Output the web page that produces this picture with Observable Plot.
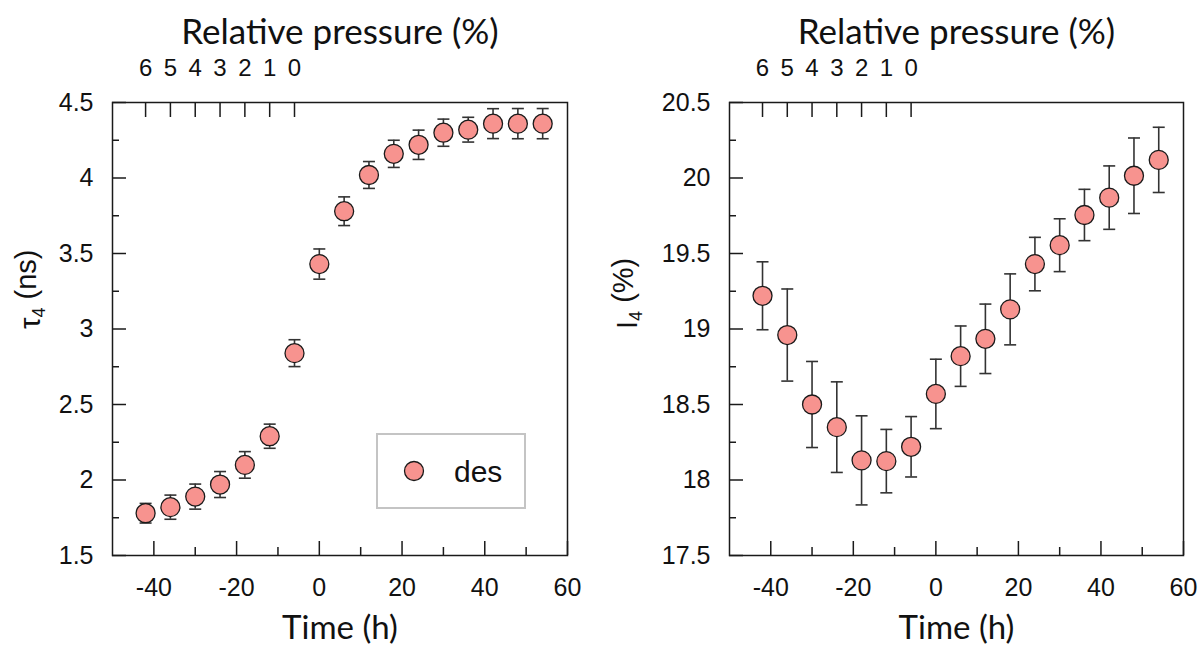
<!DOCTYPE html>
<html>
<head>
<meta charset="utf-8">
<script src="https://cdn.jsdelivr.net/npm/d3@7"></script>
<script src="https://cdn.jsdelivr.net/npm/@observablehq/plot@0.6"></script>
<style>
  body { margin: 0; background: #fff; }
  #wrap { position: relative; width: 1199px; height: 660px; overflow: hidden; }
  #left, #right { position: absolute; top: 0; }
  #left { left: 0; }
  #right { left: 600px; }
  #legend { position: absolute; left: 376px; top: 433px; width: 146px; height: 72px;
            border: 2px solid #c4c4c4; background: #fff; }
</style>
</head>
<body>
<div id="wrap">
  <div id="left"></div>
  <div id="right"></div>
  <div id="legend">
    <svg width="146" height="72">
      <circle cx="36" cy="36" r="9.5" fill="#f7938f" stroke="#1a1a1a" stroke-width="1.3"></circle>
      <text x="76" y="47" font-family="Liberation Sans, Arial, sans-serif" font-size="30" fill="#111">des</text>
    </svg>
  </div>
</div>
<script>
// ---- data ----
const times = [-42, -36, -30, -24, -18, -12, -6, 0, 6, 12, 18, 24, 30, 36, 42, 48, 54];
const tau4 = [1.78, 1.82, 1.89, 1.97, 2.10, 2.29, 2.84, 3.43, 3.78, 4.02, 4.16, 4.22, 4.30, 4.32, 4.36, 4.36, 4.36];
const tau4Err = [0.065, 0.08, 0.083, 0.086, 0.088, 0.08, 0.089, 0.10, 0.095, 0.089, 0.09, 0.097, 0.09, 0.082, 0.099, 0.10, 0.10];
const i4 = [19.22, 18.96, 18.50, 18.35, 18.13, 18.125, 18.22, 18.57, 18.82, 18.935, 19.13, 19.43, 19.555, 19.755, 19.87, 20.015, 20.12];
const i4Err = [0.225, 0.305, 0.285, 0.30, 0.295, 0.21, 0.20, 0.23, 0.20, 0.23, 0.235, 0.177, 0.175, 0.17, 0.21, 0.25, 0.216];

const xMajor = [-40, -20, 0, 20, 40, 60];
const xMinor = [-30, -10, 10, 30, 50];
const pressureTicks = [-42, -36, -30, -24, -18, -12, -6];
const pressureLabels = ["6", "5", "4", "3", "2", "1", "0"];
const tauMajor = [1.5, 2, 2.5, 3, 3.5, 4, 4.5];
const tauMinor = [1.75, 2.25, 2.75, 3.25, 3.75, 4.25];
const i4Major = [17.5, 18, 18.5, 19, 19.5, 20, 20.5];
const i4Minor = [17.75, 18.25, 18.75, 19.25, 19.75, 20.25];

const topTitle = "Relative pressure (%)";
const xTitle = "Time (h)";

const FILL = "#f7938f";
const INK = "#1a1a1a";
const SANS = "Liberation Sans, Arial, sans-serif";
const TITLE_FONT = "Lato, 'Open Sans', sans-serif";

function panel(opts) {
  const {width, marginLeft, marginRight, values, errs, yDomain, yMajor, yMinor, ylabel, ylabelDx} = opts;
  const height = 660, marginTop = 102, marginBottom = 105;
  const fh = height - marginTop - marginBottom;
  const fw = width - marginLeft - marginRight;
  const data = times.map((t, i) => ({t, v: values[i], e: errs[i]}));
  const capSymbol = {draw(ctx, size) { const w = Math.sqrt(size / Math.PI); ctx.moveTo(-w, 0); ctx.lineTo(w, 0); }};
  const svg = Plot.plot({
    width, height, marginLeft, marginRight, marginTop, marginBottom,
    style: {fontFamily: SANS, background: "#fff", color: "#111"},
    x: {domain: [-50, 60]},
    y: {domain: yDomain},
    marks: [
      Plot.frame({stroke: INK, strokeWidth: 1.5}),
      // inward ticks
      Plot.ruleX(xMajor, {stroke: INK, strokeWidth: 1.5, insetTop: fh - 14}),
      Plot.ruleX(xMinor, {stroke: INK, strokeWidth: 1.5, insetTop: fh - 8}),
      Plot.ruleX(pressureTicks, {stroke: INK, strokeWidth: 1.5, insetBottom: fh - 15}),
      Plot.ruleY(yMajor, {stroke: INK, strokeWidth: 1.5, insetRight: fw - 14}),
      Plot.ruleY(yMinor, {stroke: INK, strokeWidth: 1.5, insetRight: fw - 7}),
      // axes labels
      Plot.axisX(xMajor, {anchor: "bottom", tickSize: 0, tickPadding: 23, fontSize: 25, label: null, tickFormat: d => String(d)}),
      Plot.axisY(yMajor, {anchor: "left", tickSize: 0, tickPadding: 19, fontSize: 25, label: null, tickFormat: d => String(d)}),
      Plot.text(pressureTicks, {x: d => d, text: (d, i) => pressureLabels[i], frameAnchor: "top", lineAnchor: "middle", dy: -34, fontSize: 24, fill: "#111"}),
      Plot.text([topTitle], {frameAnchor: "top", lineAnchor: "middle", dy: -70, fontSize: 35, fontFamily: TITLE_FONT, fill: "#111"}),
      Plot.text([xTitle], {frameAnchor: "bottom", lineAnchor: "middle", dy: 73, fontSize: 33, fontFamily: TITLE_FONT, fill: "#111"}),
      Plot.text([ylabel], {frameAnchor: "left", lineAnchor: "middle", dx: ylabelDx, rotate: -90, fontSize: 29, fill: "#111", className: "ylab"}),
      // error bars
      Plot.ruleX(data, {x: "t", y1: d => d.v - d.e, y2: d => d.v + d.e, stroke: "#333", strokeWidth: 1.6}),
      Plot.dot(data, {x: "t", y: d => d.v - d.e, symbol: capSymbol, r: 6, stroke: "#333", strokeWidth: 1.6, fill: "none"}),
      Plot.dot(data, {x: "t", y: d => d.v + d.e, symbol: capSymbol, r: 6, stroke: "#333", strokeWidth: 1.6, fill: "none"}),
      // points
      Plot.dot(data, {x: "t", y: "v", r: 9.5, fill: FILL, stroke: INK, strokeWidth: 1.3})
    ]
  });
  // subscript in y label
  d3.select(svg).selectAll(".ylab text").each(function() {
    const txt = this.textContent;
    const m = txt.match(/^(.)(\d)(.*)$/);
    if (!m) return;
    const sel = d3.select(this);
    sel.text(null);
    sel.append("tspan").text(m[1]);
    sel.append("tspan").attr("font-size", 18).attr("dy", "0.3em").text(m[2]);
    sel.append("tspan").attr("dy", "-0.3em").text(m[3]);
  });
  return svg;
}

document.getElementById("left").appendChild(panel({
  width: 600, marginLeft: 112, marginRight: 33,
  values: tau4, errs: tau4Err, yDomain: [1.5, 4.5], yMajor: tauMajor, yMinor: tauMinor,
  ylabel: "τ4 (ns)", ylabelDx: -82
}));
document.getElementById("right").appendChild(panel({
  width: 599, marginLeft: 129, marginRight: 16,
  values: i4, errs: i4Err, yDomain: [17.5, 20.5], yMajor: i4Major, yMinor: i4Minor,
  ylabel: "I4 (%)", ylabelDx: -102
}));
</script>
</body>
</html>
